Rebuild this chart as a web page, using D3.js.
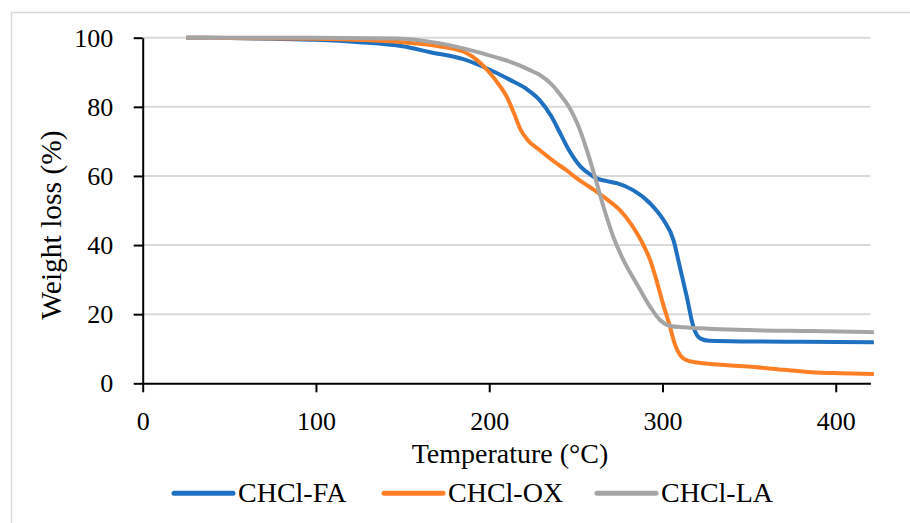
<!DOCTYPE html>
<html><head><meta charset="utf-8">
<script src="https://cdn.jsdelivr.net/npm/d3@7"></script>
<style>
html,body{margin:0;padding:0;background:#fff;}
svg text{font-family:"Liberation Serif","Times New Roman",serif;fill:#000;}
</style></head>
<body><svg id="c" width="910" height="523"></svg>
<script>
const seriesNames = ["CHCl-FA", "CHCl-OX", "CHCl-LA"];
const seriesColors = ["#1f70c1", "#ff7f27", "#a5a5a5"];
const xTicks = [0, 100, 200, 300, 400];
const yTicks = [0, 20, 40, 60, 80, 100];

const faTemp = [25, 50, 75, 100, 125, 150, 166, 185, 200, 212, 222, 229, 236, 241, 246, 252.7, 259, 262, 268, 273.6, 283, 292.8, 300.5, 306.3, 310, 314, 317.8, 321.7, 327, 350, 380, 422];
const faWeight = [100, 99.9, 99.7, 99.4, 98.7, 97.5, 95.8, 93.8, 90.8, 87.8, 85, 82, 77.1, 72.3, 67.5, 62.7, 60.2, 59.3, 58.5, 57.9, 55.9, 52.1, 47.3, 41.5, 33.7, 25.1, 16.4, 13.0, 12.3, 12.1, 12.0, 11.9];

const oxTemp = [25, 50, 100, 150, 170, 185, 193, 200, 204, 210, 214, 218, 222, 229, 239, 245, 250, 258, 268, 275, 282, 288, 293, 297, 300, 304, 307, 310, 313, 320, 336, 353, 370, 386, 403, 422];
const oxWeight = [100, 99.9, 99.7, 98.7, 97.6, 96.0, 93.5, 90.0, 87.5, 83, 78.5, 73.5, 70.5, 67.5, 63.6, 61.5, 59.5, 56.8, 53.2, 50.3, 46, 41, 35.5, 29, 23.5, 17, 11.5, 8.3, 6.9, 6.0, 5.3, 4.7, 3.9, 3.2, 2.9, 2.7];

const laTemp = [25, 50, 100, 147, 170, 185, 204, 215, 223.5, 229, 236, 241, 246, 251, 256, 261, 266, 271.6, 277.4, 285, 292.8, 298.6, 304.4, 312, 350, 385, 422];
const laWeight = [100, 100, 100, 99.8, 98.5, 96.9, 94.3, 92.5, 90.6, 89.3, 86.5, 83.5, 80, 75, 68, 59.8, 51, 42.4, 35.7, 28.9, 22.2, 18.3, 16.6, 16.2, 15.4, 15.1, 14.8];

const temps = [faTemp, oxTemp, laTemp];
const weights = [faWeight, oxWeight, laWeight];

const svg = d3.select("#c");
const x = d3.scaleLinear().domain([0, 420]).range([142.7, 870.4]);
const y = d3.scaleLinear().domain([0, 100]).range([383.3, 37.7]);

// outer frame
svg.append("rect").attr("x", 11.5).attr("y", 12.5).attr("width", 930).attr("height", 530)
  .attr("fill", "none").attr("stroke", "#d9d9d9").attr("stroke-width", 1.5);

// gridlines
svg.append("g").selectAll("line").data(yTicks.filter(d => d > 0)).join("line")
  .attr("x1", x(0)).attr("x2", x(420)).attr("y1", d => y(d)).attr("y2", d => y(d))
  .attr("stroke", "#d9d9d9").attr("stroke-width", 2);

// series lines
const line = d3.line().curve(d3.curveMonotoneX);
seriesNames.forEach((n, i) => {
  const pts = temps[i].map((t, j) => [x(t), y(weights[i][j])]);
  svg.append("path").attr("d", line(pts)).attr("fill", "none")
    .attr("stroke", seriesColors[i]).attr("stroke-width", 4).attr("stroke-linejoin", "round");
});

// axes
const yAxis = svg.append("g").attr("transform", `translate(${x(0)},0)`)
  .call(d3.axisLeft(y).tickValues(yTicks).tickSize(9).tickSizeOuter(0).tickPadding(20.5));
const xAxis = svg.append("g").attr("transform", `translate(0,${y(0)})`)
  .call(d3.axisBottom(x).tickValues(xTicks).tickSize(9).tickSizeOuter(0).tickPadding(19));
[yAxis, xAxis].forEach(g => {
  g.selectAll("path,line").attr("stroke", "#000").attr("stroke-width", 2);
  g.selectAll("text").attr("font-size", 26).attr("font-family", "Liberation Serif").attr("fill", "#000");
});

// axis titles
svg.append("text").attr("x", 510).attr("y", 463).attr("text-anchor", "middle")
  .attr("font-size", 28).text("Temperature (°C)");
svg.append("text").attr("transform", "translate(61,225) rotate(-90)").attr("text-anchor", "middle")
  .attr("font-size", 29.5).text("Weight loss (%)");

// legend
const legX = [174, 384, 597];
seriesNames.forEach((n, i) => {
  svg.append("line").attr("x1", legX[i]).attr("x2", legX[i] + 59).attr("y1", 493.3).attr("y2", 493.3)
    .attr("stroke", seriesColors[i]).attr("stroke-width", 5).attr("stroke-linecap", "round");
  svg.append("text").attr("x", legX[i] + 64).attr("y", 502.3).attr("font-size", 28).text(n);
});
</script></body></html>
